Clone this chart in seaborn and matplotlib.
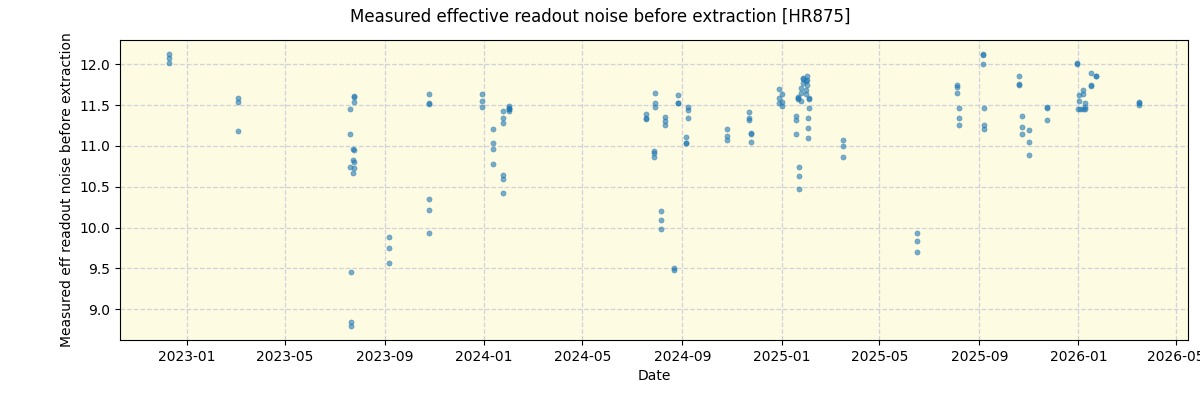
import matplotlib
matplotlib.use("Agg")
import matplotlib.pyplot as plt
import matplotlib.dates as mdates
import numpy as np
import pandas as pd
import seaborn as sns

dates = (
    ["2022-12-09"] * 3
    + ["2023-03-04"] * 3
    + ["2023-07-20"] * 3 + ["2023-07-21"] * 3 + ["2023-07-24"] * 3 + ["2023-07-25"] * 6
    + ["2023-09-06"] * 3
    + ["2023-10-25"] * 6
    + ["2023-12-30"] * 3
    + ["2024-01-12"] * 4
    + ["2024-01-24"] * 6
    + ["2024-02-01"] * 5
    + ["2024-07-18"] * 3
    + ["2024-07-29"] * 3 + ["2024-07-28"] * 3
    + ["2024-08-10"] * 3 + ["2024-08-06"] * 3
    + ["2024-08-21"] * 2
    + ["2024-08-26"] * 3
    + ["2024-09-08"] * 3 + ["2024-09-05"] * 3
    + ["2024-10-26"] * 3
    + ["2024-11-22"] * 3 + ["2024-11-24"] * 3
    + ["2024-12-29"] * 3 + ["2025-01-01"] * 3
    + ["2025-01-19"] * 3 + ["2025-01-22"] * 3
    + ["2025-01-21"] * 3 + ["2025-01-25"] * 3 + ["2025-01-27"] * 3
    + ["2025-01-31"] * 3 + ["2025-02-01"] * 3
    + ["2025-02-04"] * 3 + ["2025-02-02"] * 3
    + ["2025-03-17"] * 3
    + ["2025-06-16"] * 3
    + ["2025-08-05"] * 3 + ["2025-08-07"] * 3
    + ["2025-09-05"] * 3 + ["2025-09-07"] * 3
    + ["2025-10-20"] * 3 + ["2025-10-24"] * 3 + ["2025-11-01"] * 3
    + ["2025-11-23"] * 3
    + ["2025-12-30"] * 2
    + ["2026-01-02"] * 2 + ["2026-01-01"] + ["2026-01-03"]
    + ["2026-01-06"] * 2 + ["2026-01-09"] * 3 + ["2026-01-07"]
    + ["2026-01-16"] * 3
    + ["2026-01-23"] * 2
    + ["2026-03-17"] * 3
)
noise = (
    [12.13, 12.08, 12.01]
    + [11.59, 11.54, 11.18]
    + [11.455, 11.15, 10.74] + [9.45, 8.84, 8.79] + [10.96, 10.83, 10.67]
    + [11.60, 11.61, 11.54, 10.95, 10.80, 10.73]
    + [9.88, 9.75, 9.57]
    + [11.64, 11.51, 11.52, 10.35, 10.21, 9.93]
    + [11.64, 11.55, 11.48]
    + [11.21, 11.03, 10.96, 10.78]
    + [11.43, 11.34, 11.28, 10.64, 10.59, 10.42]
    + [11.47, 11.49, 11.455, 11.45, 11.43]
    + [11.39, 11.33, 11.34]
    + [11.65, 11.53, 11.48] + [10.94, 10.91, 10.87]
    + [11.36, 11.30, 11.26] + [10.20, 10.09, 9.98]
    + [9.50, 9.48]
    + [11.62, 11.52, 11.53]
    + [11.48, 11.44, 11.34] + [11.11, 11.03, 11.04]
    + [11.21, 11.12, 11.07]
    + [11.42, 11.34, 11.32] + [11.15, 11.16, 11.05]
    + [11.70, 11.59, 11.52] + [11.63, 11.54, 11.49]
    + [11.37, 11.32, 11.14] + [10.74, 10.63, 10.47]
    + [11.59, 11.60, 11.57] + [11.55, 11.65, 11.71] + [11.77, 11.82, 11.83]
    + [11.80, 11.69, 11.64] + [11.86, 11.81, 11.75]
    + [11.58, 11.59, 11.47] + [11.34, 11.22, 11.10]
    + [11.07, 11.00, 10.87]
    + [9.93, 9.83, 9.70]
    + [11.74, 11.72, 11.65] + [11.47, 11.34, 11.26]
    + [12.12, 12.11, 12.00] + [11.47, 11.25, 11.21]
    + [11.85, 11.76, 11.75] + [11.37, 11.23, 11.15] + [11.20, 11.05, 10.89]
    + [11.48, 11.47, 11.32]
    + [12.00, 12.01]
    + [11.62, 11.55] + [11.455] + [11.455]
    + [11.68, 11.64] + [11.53, 11.48, 11.455] + [11.455]
    + [11.89, 11.73, 11.74]
    + [11.85, 11.86]
    + [11.54, 11.52, 11.50]
)

df = pd.DataFrame({"Date": pd.to_datetime(dates), "noise": noise})

fig, ax = plt.subplots(figsize=(12, 4), dpi=100)
ax.set_facecolor("#fdfbe1")

sns.scatterplot(data=df, x="Date", y="noise", ax=ax, s=14, color="tab:blue",
                alpha=0.6, edgecolor="tab:blue", linewidth=0.4)

ax.grid(True, linestyle="--", color="#d2d2da", linewidth=0.9)
ax.set_axisbelow(True)
ax.xaxis.set_major_locator(mdates.MonthLocator(bymonth=[1, 5, 9]))
ax.xaxis.set_major_formatter(mdates.DateFormatter("%Y-%m"))
ax.set_xlabel("Date")
ax.set_ylabel("Measured eff readout noise before extraction")

fig.suptitle("Measured effective readout noise before extraction [HR875]", fontsize=12)
plt.subplots_adjust(left=0.1, right=0.99, top=0.9, bottom=0.15)
fig.savefig("out.png")
